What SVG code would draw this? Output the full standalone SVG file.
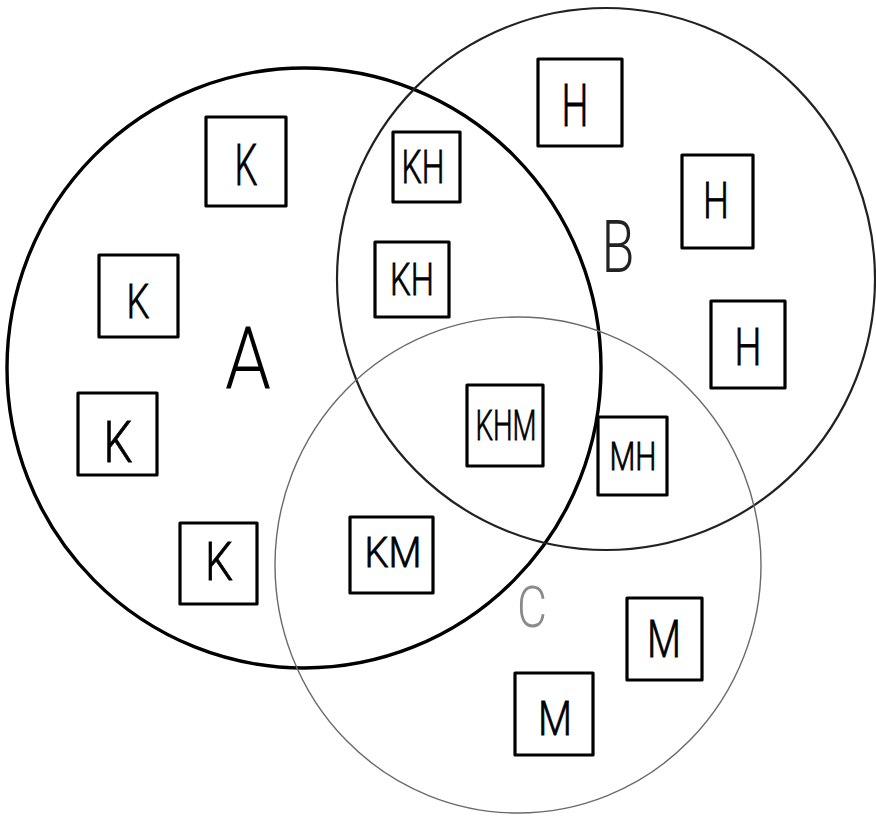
<svg xmlns="http://www.w3.org/2000/svg" width="876" height="823" viewBox="0 0 876 823">
  <style>
    .bg { fill: #ffffff; }
    .set { fill: none; }
    .setA { stroke: #000000; stroke-width: 3.4; }
    .setB { stroke: #222222; stroke-width: 2.2; }
    .setC { stroke: #6a6a6a; stroke-width: 1.4; }
    .box { fill: none; stroke: #000000; stroke-width: 3.2; stroke-linejoin: round; }
    .lbl { font-family: Roboto, "Liberation Sans", Arial, sans-serif; font-weight: 300; fill: #000000; stroke: #000000; stroke-width: 0.8; text-anchor: middle; }
    .setname { font-family: Roboto, "Liberation Sans", Arial, sans-serif; font-weight: 300; text-anchor: middle; }
  </style>

  <rect class="bg" x="0" y="0" width="876" height="823"/>

  <!-- the three sets -->
  <g id="set-a">
    <ellipse class="set setA" cx="304" cy="368" rx="297" ry="300"/>
    <text class="setname" x="248" y="388" font-size="88" textLength="46" lengthAdjust="spacingAndGlyphs" fill="#000000">A</text>
  </g>
  <g id="set-b">
    <ellipse class="set setB" cx="606" cy="279" rx="269" ry="271"/>
    <text class="setname" x="618" y="272" font-size="72" textLength="33" lengthAdjust="spacingAndGlyphs" fill="#222222">B</text>
  </g>
  <g id="set-c">
    <ellipse class="set setC" cx="518" cy="565" rx="243" ry="248"/>
    <text class="setname" x="532" y="627" font-size="58" textLength="30" lengthAdjust="spacingAndGlyphs" fill="#8a8a8a">C</text>
  </g>

  <!-- elements of A only -->
  <g id="k1">
    <rect class="box" x="206" y="117" width="80" height="89"/>
    <text class="lbl" x="246" y="185" font-size="58" textLength="23" lengthAdjust="spacingAndGlyphs">K</text>
  </g>
  <g id="k2">
    <rect class="box" x="99" y="255" width="79" height="82"/>
    <text class="lbl" x="138" y="318" font-size="49" textLength="23" lengthAdjust="spacingAndGlyphs">K</text>
  </g>
  <g id="k3">
    <rect class="box" x="78" y="393" width="79" height="82"/>
    <text class="lbl" x="118" y="462" font-size="58" textLength="29" lengthAdjust="spacingAndGlyphs">K</text>
  </g>
  <g id="k4">
    <rect class="box" x="180" y="523" width="77" height="81"/>
    <text class="lbl" x="219" y="580" font-size="53" textLength="28" lengthAdjust="spacingAndGlyphs">K</text>
  </g>

  <!-- elements of A and C -->
  <g id="km">
    <rect class="box" x="350" y="517" width="83" height="76"/>
    <text class="lbl" x="393" y="567" font-size="42" textLength="57" lengthAdjust="spacingAndGlyphs">KM</text>
  </g>

  <!-- elements of A and B -->
  <g id="kh1">
    <rect class="box" x="393" y="132" width="67" height="70"/>
    <text class="lbl" x="423" y="183" font-size="46" textLength="43" lengthAdjust="spacingAndGlyphs">KH</text>
  </g>
  <g id="kh2">
    <rect class="box" x="375" y="242" width="74" height="75"/>
    <text class="lbl" x="412" y="295" font-size="45" textLength="44" lengthAdjust="spacingAndGlyphs">KH</text>
  </g>

  <!-- elements of all three -->
  <g id="khm">
    <rect class="box" x="467" y="385" width="76" height="81"/>
    <text class="lbl" x="506" y="440" font-size="42" textLength="61" lengthAdjust="spacingAndGlyphs">KHM</text>
  </g>

  <!-- elements of B only -->
  <g id="h1">
    <rect class="box" x="538" y="59" width="84" height="87"/>
    <text class="lbl" x="575" y="126" font-size="60" textLength="27" lengthAdjust="spacingAndGlyphs">H</text>
  </g>
  <g id="h2">
    <rect class="box" x="682" y="155" width="71" height="93"/>
    <text class="lbl" x="716" y="218" font-size="50" textLength="26" lengthAdjust="spacingAndGlyphs">H</text>
  </g>
  <g id="h3">
    <rect class="box" x="711" y="301" width="74" height="87"/>
    <text class="lbl" x="748" y="365" font-size="52" textLength="27" lengthAdjust="spacingAndGlyphs">H</text>
  </g>

  <!-- elements of B and C -->
  <g id="mh">
    <rect class="box" x="598" y="417" width="69" height="78"/>
    <text class="lbl" x="633" y="470" font-size="38" textLength="47" lengthAdjust="spacingAndGlyphs">MH</text>
  </g>

  <!-- elements of C only -->
  <g id="m1">
    <rect class="box" x="627" y="598" width="75" height="82"/>
    <text class="lbl" x="664" y="657" font-size="52" textLength="34" lengthAdjust="spacingAndGlyphs">M</text>
  </g>
  <g id="m2">
    <rect class="box" x="515" y="673" width="78" height="82"/>
    <text class="lbl" x="555" y="735" font-size="49" textLength="34" lengthAdjust="spacingAndGlyphs">M</text>
  </g>
</svg>
